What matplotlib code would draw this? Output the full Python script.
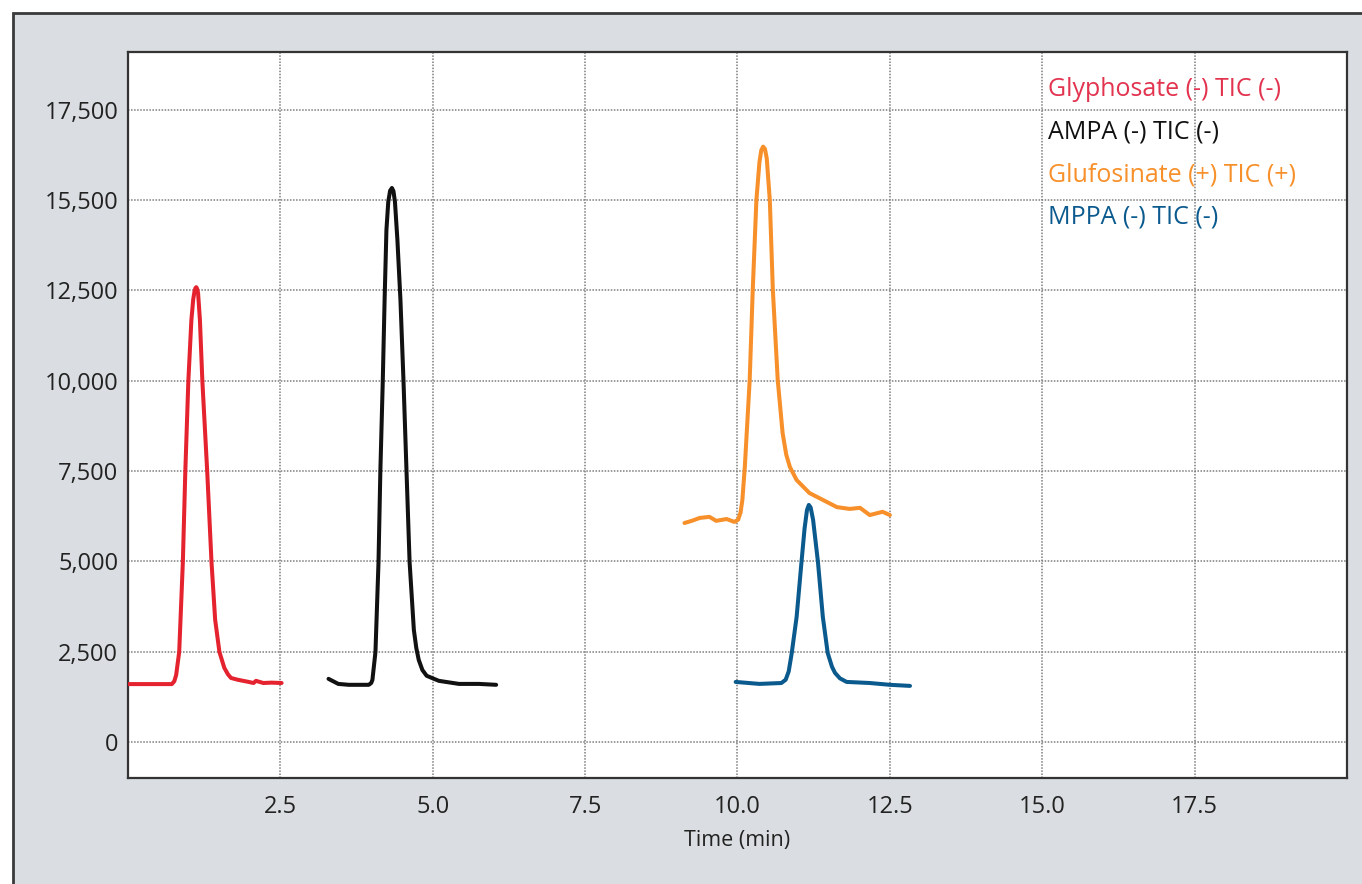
import matplotlib
matplotlib.use("Agg")
import matplotlib.pyplot as plt
from matplotlib.patches import Rectangle

plt.rcParams["font.family"] = ["Open Sans", "DejaVu Sans"]

# --- data (time in min, intensity)
glyphosate_t = [0.00, 0.72, 0.76, 0.79, 0.84, 0.90, 0.94, 0.99, 1.04, 1.07, 1.09, 1.105,
                1.12, 1.135, 1.15, 1.18, 1.22, 1.30, 1.37, 1.43, 1.50, 1.58, 1.64,
                1.69, 1.80, 1.89, 1.98, 2.06, 2.10, 2.16, 2.22, 2.35, 2.52]
glyphosate_i = [1600, 1600, 1680, 1850, 2490, 4980, 7470, 9990, 11680, 12250, 12460, 12560,
                12590, 12540, 12420, 11680, 9990, 7470, 4980, 3380, 2490, 2050, 1870,
                1770, 1720, 1690, 1660, 1630, 1690, 1660, 1630, 1640, 1630]

ampa_t = [3.29, 3.45, 3.62, 3.95, 3.99, 4.01, 4.06, 4.11, 4.14, 4.18, 4.21, 4.24, 4.27,
          4.30, 4.33, 4.355, 4.38, 4.42, 4.47, 4.52, 4.57, 4.62, 4.69, 4.73, 4.77,
          4.83, 4.90, 5.10, 5.43, 5.76, 6.04]
ampa_i = [1745, 1605, 1580, 1580, 1630, 1715, 2490, 4980, 7470, 9990, 12235, 14170, 14950,
          15260, 15335, 15250, 14950, 13900, 12235, 9990, 7470, 4980, 3100, 2600, 2270,
          1990, 1830, 1690, 1605, 1605, 1580]

glufosinate_t = [9.13, 9.25, 9.38, 9.54, 9.65, 9.82, 9.95, 10.01, 10.05, 10.08, 10.12,
                 10.20, 10.25, 10.31, 10.36, 10.39, 10.42, 10.45, 10.48, 10.53, 10.58,
                 10.66, 10.74, 10.80, 10.86, 10.97, 11.18, 11.40, 11.63, 11.84, 12.01,
                 12.17, 12.38, 12.50]
glufosinate_i = [6060, 6120, 6200, 6230, 6120, 6170, 6090, 6150, 6350, 6700, 7610,
                 10020, 12510, 15000, 16050, 16380, 16480, 16420, 16150, 15000, 12510,
                 10020, 8550, 7950, 7610, 7250, 6890, 6700, 6500, 6450, 6480,
                 6280, 6370, 6280]

mppa_t = [9.97, 10.36, 10.72, 10.79, 10.84, 10.89, 10.97, 11.05, 11.10, 11.14, 11.17,
          11.20, 11.24, 11.32, 11.40, 11.48, 11.55, 11.60, 11.68, 11.79, 12.17, 12.50,
          12.83]
mppa_i = [1660, 1605, 1630, 1720, 1950, 2460, 3460, 4980, 5900, 6420, 6560,
          6490, 6150, 4980, 3460, 2460, 2080, 1910, 1760, 1660, 1630, 1580,
          1550]

series_names = ["Glyphosate (-) TIC (-)", "AMPA (-) TIC (-)",
                "Glufosinate (+) TIC (+)", "MPPA (-) TIC (-)"]
line_colors = ["#e4232f", "#111111", "#f7902a", "#0b5a8e"]
text_colors = ["#e2334f", "#111111", "#f7902a", "#0b5a8e"]

x_ticks = [2.5, 5.0, 7.5, 10.0, 12.5, 15.0, 17.5]
y_ticks = [0, 2500, 5000, 7500, 10000, 12500, 15000, 17500]
y_tick_labels = ["0", "2,500", "5,000", "7,500", "10,000", "12,500", "15,500", "17,500"]

fig = plt.figure(figsize=(13.62, 8.84), dpi=100)
fig.patch.set_facecolor("white")

# grey panel with dark frame (runs off the right/bottom edge)
W, H = 1362, 884
panel = Rectangle((13 / W, -0.05), 1.1, (H - 13) / H + 0.05,
                  transform=fig.transFigure, facecolor="#dadee2",
                  edgecolor="#3a3a3a", linewidth=2)
panel.set_zorder(-10)
fig.add_artist(panel)

ax = fig.add_axes([128 / W, (H - 778) / H, (1347 - 128) / W, (778 - 52) / H])
ax.set_zorder(1)
ax.set_facecolor("white")

traces = [(glyphosate_t, glyphosate_i), (ampa_t, ampa_i),
          (glufosinate_t, glufosinate_i), (mppa_t, mppa_i)]
for (t, i), c in zip(traces, line_colors):
    ax.plot(t, i, color=c, linewidth=2.9, solid_joinstyle="round",
            solid_capstyle="round", zorder=3)

ax.set_xlim(0, 20)
ax.set_ylim(-1000, 19100)
ax.set_xticks(x_ticks)
ax.set_xticklabels([f"{v:.1f}" for v in x_ticks])
ax.set_yticks(y_ticks)
ax.set_yticklabels(y_tick_labels)
ax.tick_params(axis="both", length=0, labelsize=17, colors="#222222")
ax.tick_params(axis="x", pad=12)
ax.tick_params(axis="y", pad=7)

ax.grid(True, color="#7d7d7d", linestyle=(0, (1, 1)), linewidth=1.1, zorder=1)
for sp in ax.spines.values():
    sp.set_color("#333333")
    sp.set_linewidth(1.6)

ax.set_xlabel("Time (min)", fontsize=15.5, color="#222222", labelpad=8)

# legend as coloured text
legend_y = [0.948, 0.890, 0.831, 0.773]
for name, c, yy in zip(series_names, text_colors, legend_y):
    ax.text(0.755, yy, name, transform=ax.transAxes, color=c,
            fontsize=18, va="center", ha="left", zorder=4)

fig.savefig("out.png", dpi=100, facecolor=fig.get_facecolor())
